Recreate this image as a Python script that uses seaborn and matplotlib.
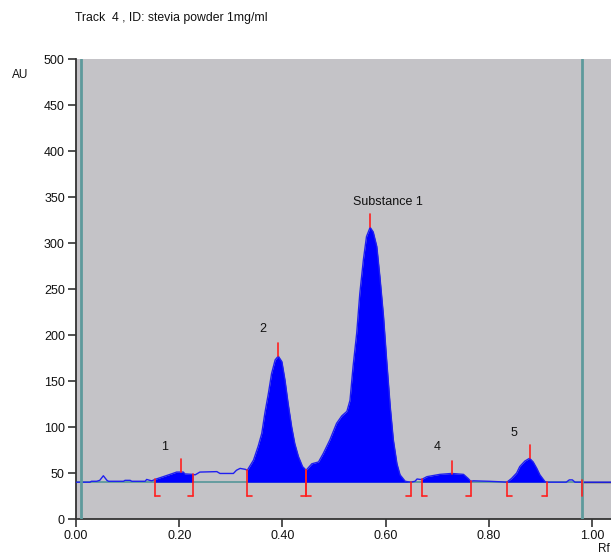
import numpy as np
import pandas as pd
import matplotlib
matplotlib.use("Agg")
import matplotlib.pyplot as plt
import seaborn as sns

# ---- data ----
rf = [0.000, 0.027, 0.030, 0.040, 0.046, 0.053, 0.060, 0.063, 0.092, 0.095,
      0.105, 0.108, 0.134, 0.137, 0.143, 0.147, 0.153, 0.169, 0.185, 0.195,
      0.208, 0.211, 0.226, 0.231, 0.240, 0.273, 0.279, 0.305, 0.311, 0.318,
      0.328, 0.332, 0.344, 0.353, 0.360, 0.366, 0.373, 0.379, 0.386, 0.392,
      0.399, 0.405, 0.411, 0.418, 0.424, 0.431, 0.439, 0.446, 0.457, 0.470,
      0.479, 0.492, 0.505, 0.515, 0.525, 0.531, 0.537, 0.544, 0.550, 0.557,
      0.563, 0.570, 0.576, 0.583, 0.589, 0.596, 0.602, 0.609, 0.615, 0.622,
      0.628, 0.638, 0.649, 0.657, 0.661, 0.667, 0.670, 0.680, 0.705, 0.728,
      0.751, 0.760, 0.765, 0.770, 0.800, 0.820, 0.835, 0.844, 0.854, 0.860,
      0.870, 0.879, 0.886, 0.893, 0.899, 0.909, 0.913, 0.950, 0.956, 0.962,
      0.967, 0.980, 1.040]
au = [40, 40, 41, 41, 42, 47, 42, 41, 41, 42,
      42, 41, 41, 43, 42, 41.5, 43, 46, 49, 51,
      51, 49, 48.5, 48, 51, 51.5, 49.5, 49.5, 53, 55,
      54, 53, 64, 79, 93, 115, 137, 158, 173, 177,
      171, 151, 126, 100, 82, 68, 57, 53, 60, 62,
      71, 86, 104, 112, 117, 129, 166, 202, 245, 282,
      307, 317, 312, 296, 263, 220, 173, 122, 86, 60,
      48, 41, 40, 41, 43.5, 43, 43, 46, 48.5, 49.5,
      48.5, 44, 41, 41.5, 41, 40.5, 40, 44, 50, 57,
      63, 66, 62, 55, 48, 40.5, 40, 40, 42.5, 42.5,
      40, 40, 40]

peak_start = [0.153, 0.332, 0.446, 0.670, 0.835]
peak_end = [0.227, 0.446, 0.649, 0.765, 0.913]
peak_max_rf = [0.203, 0.392, 0.570, 0.729, 0.879]
peak_labels = ["1", "2", "Substance 1", "4", "5"]
label_rf = [0.172, 0.363, 0.605, 0.700, 0.849]
label_au = [78, 207, 345, 78, 93]
baseline = 40
front_rf = 0.98
start_rf = 0.01

df = pd.DataFrame({"Rf": rf, "AU": au})

sns.set_style("white", {"axes.facecolor": "#C4C3C7"})
plt.rcParams["font.family"] = ["Liberation Sans", "DejaVu Sans"]

fig = plt.figure(figsize=(6.11, 5.54), dpi=100)
ax = fig.add_axes([76 / 611, 35 / 554, (611 - 76) / 611, 460 / 554])

x = np.array(rf)
y = np.array(au)

# filled peaks
for s, e in zip(peak_start, peak_end):
    xs = np.linspace(s, e, 200)
    ys = np.interp(xs, x, y)
    ax.fill_between(xs, baseline, ys, color="#0000FF", lw=0, zorder=2)

# baseline
ax.plot([0, front_rf], [baseline, baseline], color="#5E9A9C", lw=1.3, zorder=1.5)
ax.plot([front_rf, 1.04], [baseline, baseline], color="#111111", lw=1.0, zorder=1.5)

# curve
sns.lineplot(data=df, x="Rf", y="AU", color="#2020F0", lw=1.0, ax=ax,
             estimator=None, sort=False, zorder=3)

# start / front lines
ax.axvline(start_rf, color="#5E9A9C", lw=2, zorder=4)
ax.axvline(front_rf, color="#5E9A9C", lw=2, zorder=4)

red = "#FF2020"
tick = 0.010
low = 25
for s, e in zip(peak_start, peak_end):
    ys = np.interp(s, x, y)
    ax.plot([s, s], [ys, low], color=red, lw=1.2, zorder=5)
    ax.plot([s, s + tick], [low, low], color=red, lw=1.2, zorder=5)
    ye = np.interp(e, x, y)
    ax.plot([e, e], [ye, low], color=red, lw=1.2, zorder=5)
    ax.plot([e - tick, e], [low, low], color=red, lw=1.2, zorder=5)
for m in peak_max_rf:
    ym = np.interp(m, x, y)
    ax.plot([m, m], [ym, ym + 14], color=red, lw=1.2, zorder=5)
ax.plot([front_rf, front_rf], [baseline + 2, low], color=red, lw=1.2, zorder=5)

for t, lx, ly in zip(peak_labels, label_rf, label_au):
    ax.text(lx, ly, t, ha="center", va="center", fontsize=9, color="#111111")

ax.set_xlim(0, 535 / 516)
ax.set_ylim(0, 500)
ax.set_xticks([0, 0.2, 0.4, 0.6, 0.8, 1.0])
ax.set_xticklabels(["0.00", "0.20", "0.40", "0.60", "0.80", "1.00"])
ax.set_yticks(np.arange(0, 501, 50))
ax.set_xlabel("")
ax.set_ylabel("")
for sp in ["top", "right"]:
    ax.spines[sp].set_visible(False)
for sp in ["left", "bottom"]:
    ax.spines[sp].set_color("#333333")
    ax.spines[sp].set_linewidth(1.3)
ax.tick_params(direction="out", length=6, width=1.2, colors="#333333",
               labelsize=9, labelcolor="#111111", left=True, bottom=True, pad=2)

fig.text(20 / 611, 1 - 75 / 554, "AU", fontsize=8.5, ha="center", va="center", color="#111111")
fig.text(598 / 611, 1 - 549 / 554, "Rf", fontsize=8.5, ha="left", va="center", color="#111111")
fig.text(75 / 611, 1 - 18 / 554, "Track  4 , ID: stevia powder 1mg/ml", fontsize=8.8,
         ha="left", va="center", color="#111111")

fig.savefig("out.png", dpi=100)
